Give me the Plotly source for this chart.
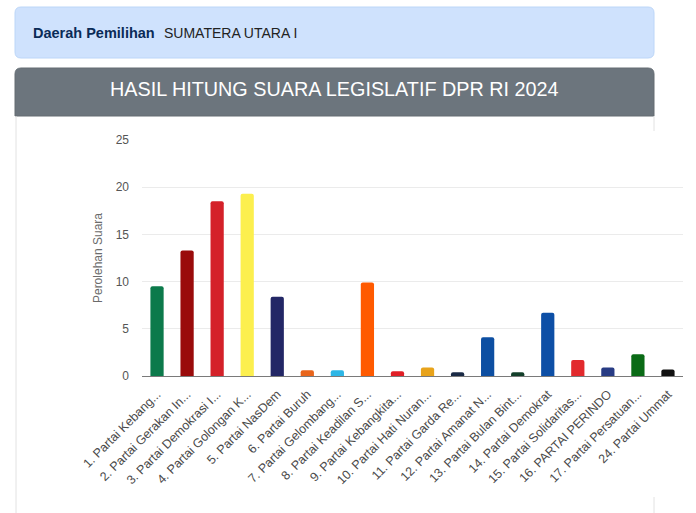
import plotly.graph_objects as go

# ---- data ----
categories = [
    "1. Partai Kebang...", "2. Partai Gerakan In...", "3. Partai Demokrasi I...",
    "4. Partai Golongan K...", "5. Partai NasDem", "6. Partai Buruh",
    "7. Partai Gelombang...", "8. Partai Keadilan S...", "9. Partai Kebangkita...",
    "10. Partai Hati Nuran...", "11. Partai Garda Re...", "12. Partai Amanat N...",
    "13. Partai Bulan Bint...", "14. Partai Demokrat", "15. Partai Solidaritas...",
    "16. PARTAI PERINDO", "17. Partai Persatuan...", "24. Partai Ummat",
]
values = [9.5, 13.3, 18.5, 19.3, 8.4, 0.6, 0.6, 9.9, 0.5,
          0.9, 0.4, 4.1, 0.4, 6.7, 1.7, 0.9, 2.3, 0.7]
colors = ["#0c7a4b", "#9a0b0b", "#d42129", "#fcef4e", "#232766", "#e8651c",
          "#2db6e6", "#ff5a00", "#e01f26", "#e8a31b", "#1a2a45", "#0d4fa2",
          "#133f2a", "#0d4fa6", "#e22a2d", "#283c84", "#0a6b16", "#111111"]
y_ticks = [0, 5, 10, 15, 20, 25]
region_label = "Daerah Pemilihan"
region_name = "SUMATERA UTARA I"
chart_title = "HASIL HITUNG SUARA LEGISLATIF DPR RI 2024"
y_title = "Perolehan Suara"

W, H = 696, 513
PL, PR, PT, PB = 142, 683, 140, 376  # plot area in pixels


def px(x):
    return (x - PL) / (PR - PL)


def py(y):
    return (PB - y) / (PB - PT)


def rrect(x0, y0, x1, y1, r, top_only=False):
    X0, X1 = px(x0), px(x1)
    Y0, Y1 = py(y0), py(y1)
    rx = r / (PR - PL)
    ry = r / (PB - PT)
    if top_only:
        return (f"M {X0} {Y1} L {X0} {Y0 - ry} Q {X0} {Y0} {X0 + rx} {Y0} "
                f"L {X1 - rx} {Y0} Q {X1} {Y0} {X1} {Y0 - ry} L {X1} {Y1} Z")
    return (f"M {X0 + rx} {Y0} L {X1 - rx} {Y0} Q {X1} {Y0} {X1} {Y0 - ry} "
            f"L {X1} {Y1 + ry} Q {X1} {Y1} {X1 - rx} {Y1} L {X0 + rx} {Y1} "
            f"Q {X0} {Y1} {X0} {Y1 + ry} L {X0} {Y0 - ry} Q {X0} {Y0} {X0 + rx} {Y0} Z")


FONT = "Liberation Sans, Arial, sans-serif"

fig = go.Figure(go.Bar(
    x=categories, y=values,
    marker=dict(color=colors, line=dict(width=0), cornerradius=2),
    hoverinfo="x+y",
))

shapes = [
    dict(type="path", xref="paper", yref="paper", path=rrect(15, 7, 654, 58, 6),
         fillcolor="#cfe2fd", line=dict(color="#bcd6f8", width=1), layer="below"),
    dict(type="path", xref="paper", yref="paper", path=rrect(15, 68, 654, 116, 6, top_only=True),
         fillcolor="#6c757d", line=dict(color="#646c73", width=1), layer="below"),
    dict(type="line", xref="paper", yref="paper", x0=px(16), x1=px(16), y0=py(116), y1=py(513),
         line=dict(color="#e2e2e2", width=1), layer="below"),
    dict(type="line", xref="paper", yref="paper", x0=px(654), x1=px(654), y0=py(116), y1=py(131),
         line=dict(color="#e2e2e2", width=1), layer="below"),
    dict(type="line", xref="paper", yref="paper", x0=px(654), x1=px(654), y0=py(497), y1=py(513),
         line=dict(color="#e2e2e2", width=1), layer="below"),
]

annotations = [
    dict(xref="paper", yref="paper", x=px(31), y=py(33), xanchor="left", yanchor="middle",
         text=f"<b>{region_label}</b>", showarrow=False,
         font=dict(family=FONT, size=14.5, color="#0a2b57")),
    dict(xref="paper", yref="paper", x=px(162), y=py(33), xanchor="left", yanchor="middle",
         text=region_name, showarrow=False,
         font=dict(family=FONT, size=14, color="#222222")),
    dict(xref="paper", yref="paper", x=px(334.5), y=py(89), xanchor="center", yanchor="middle",
         text=chart_title, showarrow=False,
         font=dict(family=FONT, size=19.8, color="#ffffff")),
]

fig.update_layout(
    width=W, height=H,
    margin=dict(l=PL, r=W - PR, t=PT, b=H - PB, autoexpand=False),
    paper_bgcolor="white", plot_bgcolor="white",
    showlegend=False,
    bargap=0.56,
    font=dict(family=FONT, size=12, color="#555555"),
    shapes=shapes,
    annotations=annotations,
    xaxis=dict(
        tickangle=-45, showgrid=False, showline=True, linecolor="#7a7a7a", linewidth=1,
        ticks="outside", ticklen=5, tickcolor="rgba(0,0,0,0)",
        tickfont=dict(family=FONT, size=12.5, color="#4a4a4a"),
        fixedrange=True,
    ),
    yaxis=dict(
        range=[0, 25], tickvals=y_ticks, showgrid=True, gridcolor="#ebebeb", gridwidth=1,
        zeroline=False, showline=False, ticks="", ticklabelstandoff=12,
        tickfont=dict(family=FONT, size=12, color="#555555"),
        title=dict(text=y_title, standoff=10, font=dict(family=FONT, size=12, color="#6b6b6b")),
        fixedrange=True,
    ),
)

fig.write_html("out.html", config={"displayModeBar": False})
